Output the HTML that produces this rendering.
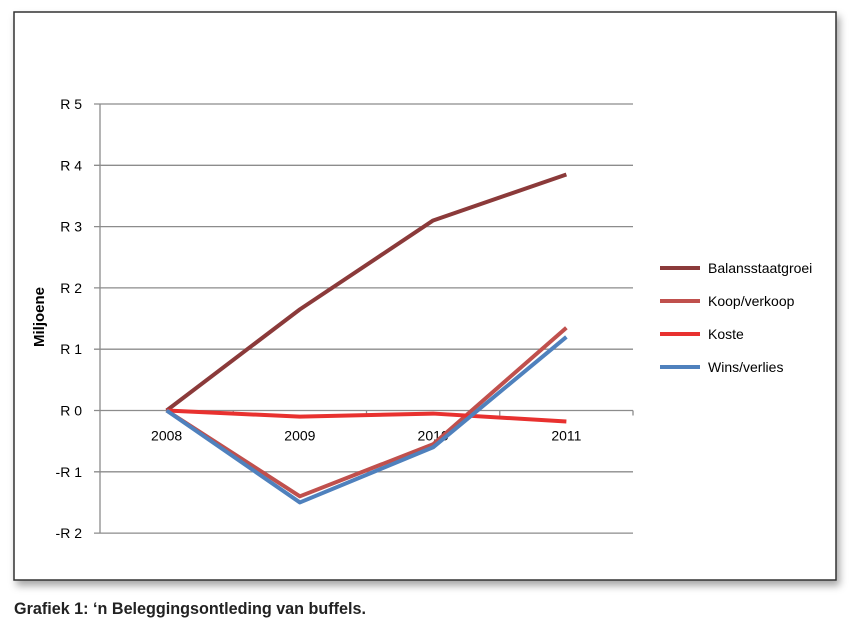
<!DOCTYPE html>
<html><head><meta charset="utf-8"><style>
body{margin:0;background:#fff;width:850px;height:627px;overflow:hidden;font-family:"Liberation Sans",sans-serif}
</style></head><body>
<svg width="850" height="627" xmlns="http://www.w3.org/2000/svg">
<defs><filter id="sh" x="-5%" y="-5%" width="110%" height="115%"><feDropShadow dx="3" dy="5" stdDeviation="4" flood-color="#000" flood-opacity="0.35"/></filter></defs>
<rect x="14" y="12" width="822" height="568" fill="#fff" stroke="#333" stroke-width="1.5" filter="url(#sh)"/>
<g id="grid"></g>
<g id="series"></g>
<text transform="translate(44,317) rotate(-90)" text-anchor="middle" font-size="15" font-weight="bold" fill="#000">Miljoene</text>
<g id="legend"></g>
<text x="14" y="614" font-size="17" font-weight="bold" fill="#222" textLength="352" lengthAdjust="spacingAndGlyphs">Grafiek 1: ‘n Beleggingsontleding van buffels.</text>
</svg>
<script>
const categories=["2008","2009","2010","2011"];
const yTicks=[5,4,3,2,1,0,-1,-2];
const yTickLabels=["R 5","R 4","R 3","R 2","R 1","R 0","-R 1","-R 2"];
const seriesNames=["Balansstaatgroei","Koop/verkoop","Koste","Wins/verlies"];
const balans=[0,1.65,3.1,3.85];
const koop=[0,-1.4,-0.55,1.35];
const koste=[0,-0.1,-0.05,-0.18];
const wins=[0,-1.5,-0.6,1.2];
const colors=["#8b3a3a","#c0504d","#e8312f","#4f81bd"];
const NS="http://www.w3.org/2000/svg";
const X0=100,X1=633,Y5=104,YU=61.3;
function xs(i){return X0+(X1-X0)/categories.length*(i+0.5);}
function ys(v){return Y5+(5-v)*YU;}
function mk(tag,attrs,parent){const e=document.createElementNS(NS,tag);for(const k in attrs)e.setAttribute(k,attrs[k]);parent.appendChild(e);return e;}
const grid=document.getElementById('grid');
yTicks.forEach((t,i)=>{
 const l=mk('line',{x1:94,x2:X1,y1:ys(t),y2:ys(t),stroke:'#8c8c8c','stroke-width':1.3},grid);
 
 
 const tx=mk('text',{x:82,y:ys(t)+5,'text-anchor':'end','font-size':14,fill:'#000'},grid);
 tx.textContent=yTickLabels[i];
 
 
});
const ax=mk('line',{x1:X0,x2:X0,y1:ys(5),y2:ys(-2),stroke:'#8c8c8c','stroke-width':1.3},grid);


categories.forEach((c,i)=>{
 const tk=mk('line',{x1:X0+(X1-X0)/4*(i+1),x2:X0+(X1-X0)/4*(i+1),y1:ys(0),y2:ys(0)+5,stroke:'#8c8c8c','stroke-width':1.3},grid);
 
 
 const t=mk('text',{x:xs(i),y:ys(0)+30,'text-anchor':'middle','font-size':14,fill:'#000'},grid);
 t.textContent=c;
 
 
});
const sg=document.getElementById('series');
[balans,koop,koste,wins].forEach((d,s)=>{
 const p=mk('polyline',{points:d.map((v,i)=>xs(i)+','+ys(v)).join(' '),fill:'none',stroke:colors[s],'stroke-width':4,'stroke-linejoin':'round'},sg);
 
 
});
const lg=document.getElementById('legend');
seriesNames.forEach((n,i)=>{
 const y=268+i*33;
 const g=mk('g',{},lg);
 
 
 mk('line',{x1:660,x2:700,y1:y,y2:y,stroke:colors[i],'stroke-width':4},g);
 const t=mk('text',{x:708,y:y+5,'font-size':14,fill:'#000'},g);
 t.textContent=n;
});
</script>
</body></html>
